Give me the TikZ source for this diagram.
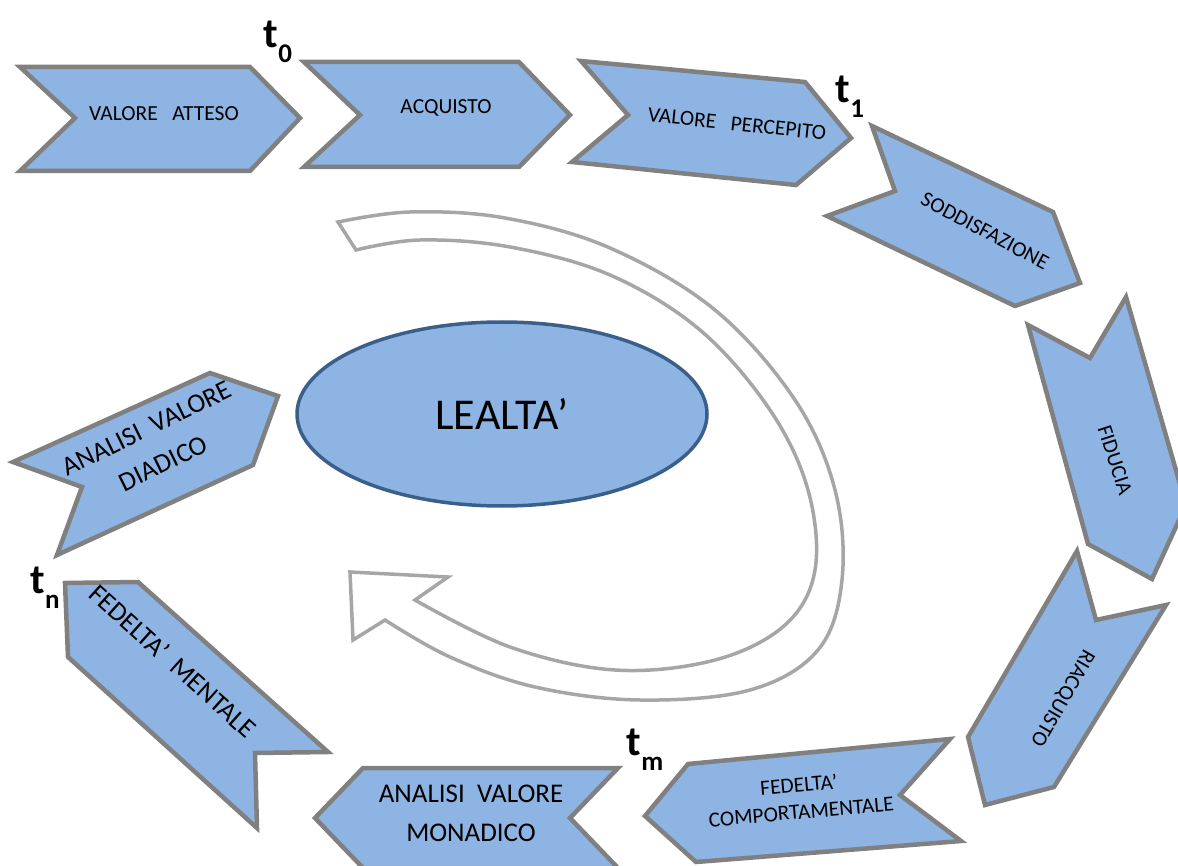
\documentclass[tikz,border=0pt]{standalone}
\usepackage{fontspec}
\setmainfont{Carlito}
\usetikzlibrary{shapes.geometric}
\definecolor{chevfill}{HTML}{8EB4E3}
\definecolor{chevline}{HTML}{808080}
\definecolor{ovalline}{HTML}{3A5F8B}
\definecolor{loopline}{HTML}{A6A6A6}
\newcommand\tmark[1]{{\bfseries\fontsize{42}{42}\selectfont t\raisebox{-0.36em}{\fontsize{27}{27}\selectfont #1}}}
\tikzset{
  chev/.style={fill=chevfill, draw=chevline, line width=4.5pt, line join=miter},
  lbl/.style={font=\fontsize{21.5}{27}\selectfont, align=center, inner sep=0pt},
  biglbl/.style={font=\fontsize{27}{39}\selectfont, align=center, inner sep=0pt},
  tlbl/.style={inner sep=0pt},
  oval/.style={ellipse, fill=chevfill, draw=ovalline, line width=3.5pt,
    minimum width=410pt, minimum height=184pt, inner sep=0pt,
    font=\fontsize{44}{44}\selectfont},
  loop/.style={draw=loopline, fill=white, line width=3.5pt, line join=miter}
}
\begin{document}
\begin{tikzpicture}[x=1pt,y=-1pt]
\useasboundingbox (0,0) rectangle (1178,866);
\clip (0,0) rectangle (1178,866);

% hollow loop arrow around the centre
\draw[loop] plot[smooth, tension=0.6] coordinates {(338,222) (410,212) (505,218) (610,248) (715,310) (795,400) (835,490) (842,580) (818,650) (750,690) (640,700) (535,687) (450,657) (385,620)}
  -- (353,640) -- (350,572) -- (448,577) -- (415,600)
  -- plot[smooth, tension=0.6] coordinates {(415,600) (510,647) (615,670) (715,660) (785,625) (815,570) (808,490) (770,410) (700,330) (610,275) (510,247) (420,240) (356,250)} -- cycle;

% central ellipse
\node[oval] (lealta) at (502,414) {LEALTA’};

% chevrons of the cycle
\draw[chev] (20,67) -- (250,67) -- (300,118) -- (250,171) -- (20,171) -- (75,118) -- cycle;
\draw[chev] (304,62) -- (519,62) -- (570,115) -- (519,167) -- (304,167) -- (360,115) -- cycle;
\draw[chev] (581,61) -- (805,82) -- (851,138) -- (796,185) -- (572,162) -- (628,115) -- cycle;
\draw[chev] (872,126) -- (1053,212) -- (1080,283) -- (1015,306) -- (827,216) -- (895,191) -- cycle;
\draw[chev] (1028,325) -- (1090,358) -- (1126,297) -- (1186,505) -- (1152,579) -- (1088,544) -- cycle;
\draw[chev] (1077,551) -- (1096,620) -- (1166,605) -- (1054,787) -- (985,805) -- (968,737) -- cycle;
\draw[chev] (950,739) -- (900,795) -- (961,841) -- (696,862) -- (645,816) -- (688,764) -- cycle;
\draw[chev] (363,768) -- (618,768) -- (570,818) -- (618,868) -- (363,868) -- (315,818) -- cycle;
\draw[chev] (13,462) -- (210,373) -- (278,396) -- (253,465) -- (57,555) -- (82,487) -- cycle;
\draw[chev] (65,583) -- (138,582) -- (328,752) -- (255,753) -- (257,828) -- (68,657) -- cycle;

% chevron labels
\node[lbl] (atteso) at (164,114) {VALORE\ \ \ ATTESO};
\node[lbl] (acquisto) at (446,108) {ACQUISTO};
\node[lbl, rotate=-6] (percepito) at (737,124) {VALORE\ \ \ PERCEPITO};
\node[lbl, rotate=-28] (soddisfazione) at (985,231) {SODDISFAZIONE};
\node[lbl, rotate=-72] (fiducia) at (1115,460) {FIDUCIA};
\node[lbl, rotate=-120] (riacquisto) at (1062,698) {RIACQUISTO};
\node[lbl, rotate=5] (comportamentale) at (800,798) {FEDELTA’\\COMPORTAMENTALE};
\node[biglbl] (monadico) at (471,813) {ANALISI\ \ VALORE\\MONADICO};
\node[biglbl, rotate=26] (diadico) at (155,446) {ANALISI\ \ VALORE\\DIADICO};
\node[biglbl, rotate=-42] (mentale) at (173,661) {FEDELTA’\ \ MENTALE};

% time marks
\node[tlbl] (t0) at (278,42) {\tmark{0}};
\node[tlbl] (t1) at (850,97) {\tmark{1}};
\node[tlbl] (tm) at (645,750) {\tmark{m}};
\node[tlbl] (tn) at (45,588) {\tmark{n}};
\end{tikzpicture}
\end{document}
